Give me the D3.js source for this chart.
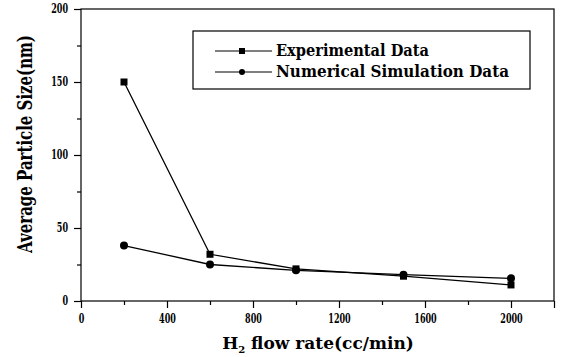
<!DOCTYPE html>
<html>
<head>
<meta charset="utf-8">
<script src="https://cdn.jsdelivr.net/npm/d3@7"></script>
<style>
  body { margin: 0; background: #fff; }
  svg text { font-family: "DejaVu Serif", serif; font-weight: bold; fill: #000; }
</style>
</head>
<body>
<svg id="chart" width="562" height="357"></svg>
<script>
// data
const flowRates = [200, 600, 1000, 1500, 2000];
const experimental = [150, 32, 22, 17, 11];
const simulation = [38, 25, 21, 18, 15.5];
const xTicks = [0, 400, 800, 1200, 1600, 2000];
const yTicks = [0, 50, 100, 150, 200];
const seriesNames = ["Experimental Data", "Numerical Simulation Data"];

const svg = d3.select("#chart");
const mLeft = 81, mRight = 554, mTop = 9, mBottom = 301;

const x = d3.scaleLinear().domain([0, 2200]).range([mLeft, mRight]);
const y = d3.scaleLinear().domain([0, 200]).range([mBottom, mTop]);

// squeeze the wide DejaVu glyphs so they take the room Times would
function squeeze(sel, perChar) {
  sel.attr("lengthAdjust", "spacingAndGlyphs")
     .attr("textLength", function () { return this.textContent.length * perChar; });
}

// frame
svg.append("rect")
  .attr("x", mLeft).attr("y", mTop)
  .attr("width", mRight - mLeft).attr("height", mBottom - mTop)
  .attr("fill", "none").attr("stroke", "#000").attr("stroke-width", 1.2);

// x axis: minor + major ticks
const xAxis = svg.append("g").attr("transform", `translate(0,${mBottom})`);
xAxis.call(d3.axisBottom(x).tickValues(d3.range(200, 2200, 400)).tickSize(4).tickFormat(""))
  .call(g => g.select(".domain").remove());
const xMajor = xAxis.append("g");
xMajor.call(d3.axisBottom(x).tickValues(xTicks.concat([2200])).tickSize(7).tickPadding(6)
    .tickFormat(d => d === 2200 ? "" : d))
  .call(g => g.select(".domain").remove());
xAxis.selectAll("line").attr("stroke-width", 1.2);
xAxis.selectAll("text").attr("font-size", 12).call(squeeze, 5.6);

// y axis
const yAxis = svg.append("g").attr("transform", `translate(${mLeft},0)`);
yAxis.call(d3.axisLeft(y).tickValues(d3.range(25, 200, 50)).tickSize(4).tickFormat(""))
  .call(g => g.select(".domain").remove());
const yMajor = yAxis.append("g");
yMajor.call(d3.axisLeft(y).tickValues(yTicks).tickSize(7).tickPadding(6))
  .call(g => g.select(".domain").remove());
yAxis.selectAll("line").attr("stroke-width", 1.2);
yAxis.selectAll("text").attr("font-size", 12).call(squeeze, 5.6);
svg.selectAll("g").attr("font-family", null);

// axis titles
const xt = svg.append("text")
  .attr("x", 318).attr("y", 349)
  .attr("text-anchor", "middle").attr("font-size", 17);
xt.append("tspan").text("H");
xt.append("tspan").attr("font-size", 10).attr("dy", 4).text("2");
xt.append("tspan").attr("dy", -4).text(" flow rate(cc/min)");

const yt = svg.append("text")
  .attr("text-anchor", "middle").attr("font-size", 20)
  .text("Average Particle Size(nm)");
const ytScale = 218 / yt.node().getComputedTextLength();
yt.attr("transform", `translate(32,144) rotate(-90) scale(${ytScale},1)`);

// series
const line = d3.line().x(d => x(d[0])).y(d => y(d[1]));
const series = [experimental, simulation].map(vals => flowRates.map((f, i) => [f, vals[i]]));

svg.append("g").selectAll("path")
  .data(series).enter().append("path")
  .attr("d", line)
  .attr("fill", "none").attr("stroke", "#000").attr("stroke-width", 1.3);

svg.append("g").selectAll("rect")
  .data(series[0]).enter().append("rect")
  .attr("x", d => x(d[0]) - 3.5).attr("y", d => y(d[1]) - 3.5)
  .attr("width", 7).attr("height", 7).attr("fill", "#000");

svg.append("g").selectAll("circle")
  .data(series[1]).enter().append("circle")
  .attr("cx", d => x(d[0])).attr("cy", d => y(d[1]))
  .attr("r", 4).attr("fill", "#000");

// legend
const legend = svg.append("g");
legend.append("rect")
  .attr("x", 193).attr("y", 31).attr("width", 337).attr("height", 58)
  .attr("fill", "#fff").attr("stroke", "#000").attr("stroke-width", 1.2);

const legendWidths = [153, 233];
const rows = legend.selectAll("g.row").data(seriesNames).enter().append("g")
  .attr("class", "row")
  .attr("transform", (d, i) => `translate(0,${51 + i * 21})`);
rows.append("line")
  .attr("x1", 215).attr("x2", 272).attr("y1", 0).attr("y2", 0)
  .attr("stroke", "#000").attr("stroke-width", 1.2);
rows.filter((d, i) => i === 0).append("rect")
  .attr("x", 239).attr("y", -3).attr("width", 6).attr("height", 6).attr("fill", "#000");
rows.filter((d, i) => i === 1).append("circle")
  .attr("cx", 242).attr("cy", 0).attr("r", 3).attr("fill", "#000");
rows.append("text")
  .attr("x", 276).attr("y", 5).attr("font-size", 17)
  .attr("lengthAdjust", "spacingAndGlyphs")
  .attr("textLength", (d, i) => legendWidths[i])
  .text(d => d);
</script>
</body>
</html>
